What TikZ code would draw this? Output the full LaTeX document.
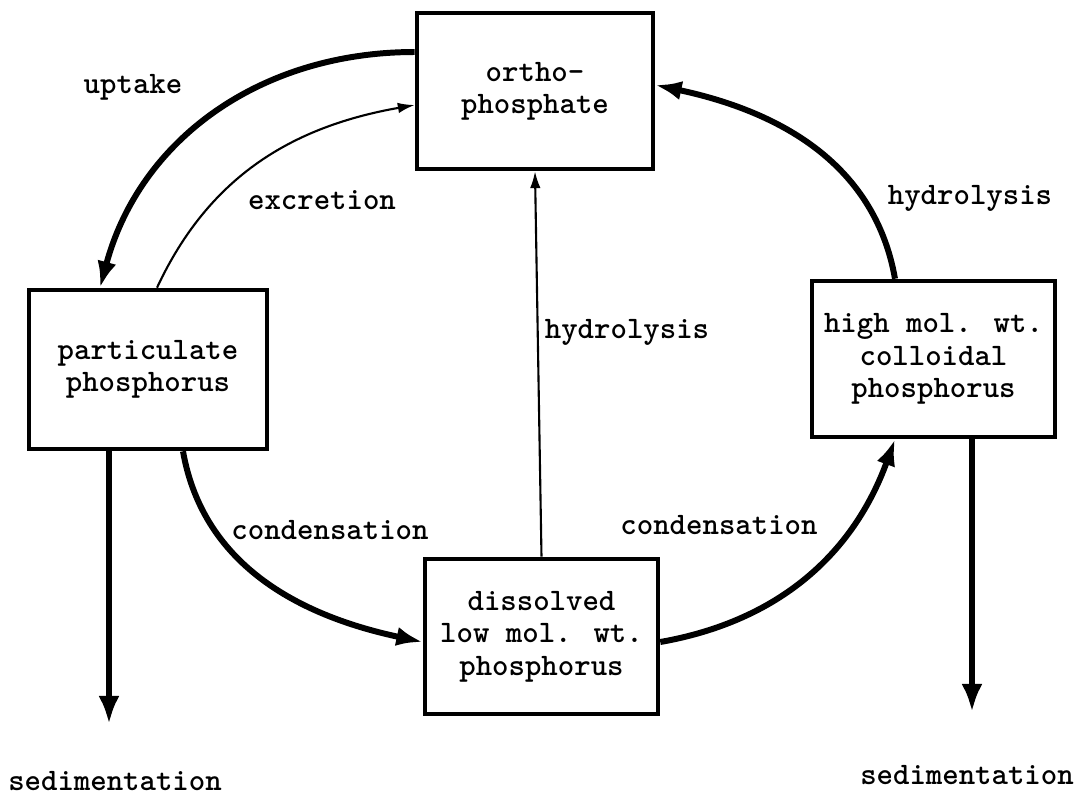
\documentclass[tikz,border=0pt]{standalone}
\usepackage{tikz}
\usetikzlibrary{arrows.meta}

\begin{document}
\begin{tikzpicture}[font=\ttfamily\bfseries\fontsize{8.9}{9.2}\selectfont,
  pbox/.style={draw,line width=1.3pt,align=center,minimum width=2.36cm,minimum height=1.56cm,inner sep=2pt},
  bigflow/.style={line width=1.7pt,-{Latex[length=7.5pt,width=5.5pt]}},
  smallflow/.style={line width=0.6pt,-{Latex[length=4.8pt,width=3pt]}}]
  \useasboundingbox (0,0) rectangle (10.76,8.04);
  % pools
  \node[pbox] (ortho) at (5.35,7.13) {ortho-\\phosphate};
  \node[pbox,minimum width=2.38cm,minimum height=1.59cm] (partic) at (1.48,4.345) {particulate\\phosphorus};
  \node[pbox,minimum width=2.33cm,minimum height=1.55cm] (dissolved) at (5.415,1.675) {dissolved\\low mol. wt.\\phosphorus};
  \node[pbox,minimum width=2.43cm] (highmol) at (9.335,4.45) {high mol. wt.\\colloidal\\phosphorus};
  % fluxes
  \draw[bigflow] ([yshift=3.9mm]ortho.west) to[out=180,in=75] ([xshift=-4.8mm]partic.north);
  \draw[smallflow] ([xshift=0.9mm]partic.north) to[out=65,in=190] ([yshift=-1.4mm]ortho.west);
  \draw[bigflow] ([xshift=-3.85mm]highmol.north) to[out=100,in=-12] ([yshift=0.6mm]ortho.east);
  \draw[smallflow] (dissolved.north) -- (ortho.south);
  \draw[bigflow] ([xshift=3.5mm]partic.south) to[out=-80,in=168] ([yshift=-0.55mm]dissolved.west);
  \draw[bigflow] ([yshift=-0.55mm]dissolved.east) to[out=10,in=-110] ([xshift=-3.85mm]highmol.south);
  % sedimentation
  \coordinate (sedL) at (1.09,0.80);
  \coordinate (sedR) at (9.72,0.92);
  \foreach \pool/\sed in {partic/sedL,highmol/sedR}
    \draw[line width=1.7pt,-{Latex[length=8pt,width=6pt]}] (\pool.south -| \sed) -- (\sed);
  % labels
  \node (uptake) at (1.33,7.17) {uptake};
  \node (excretion) at (3.22,6.04) {excretion};
  \node (hydroR) at (9.70,6.06) {hydrolysis};
  \node (hydroM) at (6.27,4.72) {hydrolysis};
  \node (condL) at (3.30,2.74) {condensation};
  \node (condR) at (7.19,2.79) {condensation};
  \node (sedLtext) at (1.15,0.23) {sedimentation};
  \node (sedRtext) at (9.67,0.29) {sedimentation};
\end{tikzpicture}
\end{document}
